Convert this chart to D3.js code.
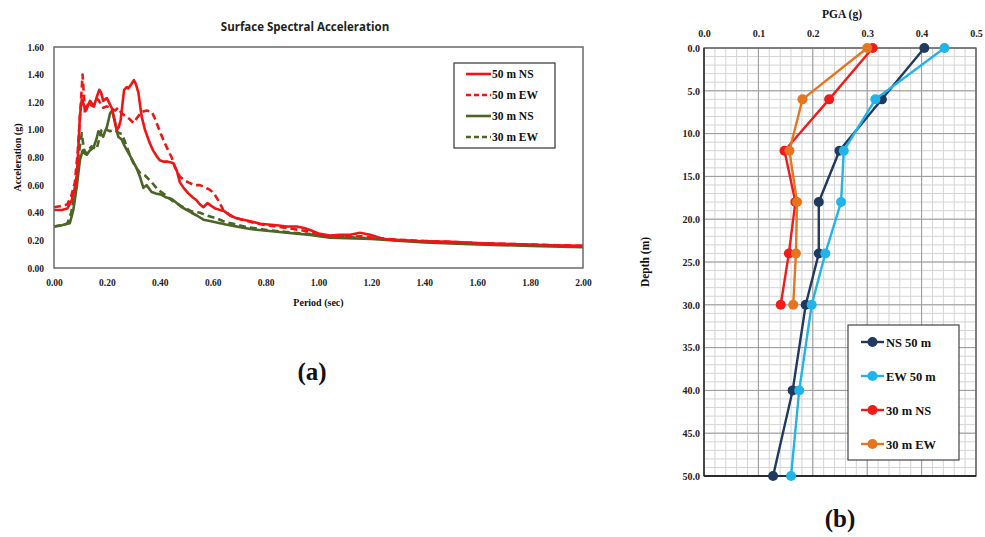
<!DOCTYPE html>
<html>
<head>
<meta charset="utf-8">
<script src="https://cdn.jsdelivr.net/npm/d3@7"></script>
<style>
  body { margin: 0; background: #fff; }
  .tick text { font-family: "Liberation Serif", serif; font-weight: bold; fill: #222; }
  .lab { font-family: "Liberation Serif", serif; font-weight: bold; fill: #111; }
</style>
</head>
<body>
<script>
// ---------------- data (a) : spectral acceleration ----------------
var ns50T = [0,0.03,0.05,0.067,0.086,0.098,0.105,0.113,0.121,0.136,0.151,0.162,0.171,0.178,0.186,0.2,0.21,0.218,0.228,0.237,0.245,0.252,0.265,0.275,0.281,0.292,0.302,0.31,0.319,0.331,0.344,0.363,0.375,0.388,0.4,0.413,0.43,0.451,0.465,0.476,0.49,0.508,0.525,0.539,0.552,0.565,0.58,0.595,0.61,0.628,0.645,0.665,0.69,0.716,0.75,0.779,0.81,0.842,0.88,0.918,0.945,0.968,1.0,1.043,1.08,1.12,1.157,1.195,1.245,1.3,1.371,1.5,1.6,1.686,1.8,1.875,2.0];
var ns50A = [0.42,0.42,0.43,0.49,0.64,1.10,1.22,1.18,1.14,1.21,1.17,1.24,1.29,1.27,1.21,1.23,1.19,1.16,1.08,1.00,1.02,1.07,1.29,1.31,1.30,1.33,1.36,1.33,1.27,1.10,1.00,0.90,0.85,0.81,0.78,0.77,0.77,0.76,0.70,0.62,0.58,0.54,0.51,0.49,0.46,0.44,0.47,0.45,0.43,0.42,0.41,0.38,0.36,0.35,0.335,0.32,0.315,0.31,0.30,0.30,0.29,0.275,0.25,0.235,0.24,0.24,0.255,0.24,0.21,0.20,0.195,0.19,0.18,0.175,0.17,0.165,0.16];

var ew50T = [0,0.03,0.05,0.065,0.079,0.09,0.1,0.108,0.113,0.117,0.13,0.14,0.149,0.16,0.168,0.178,0.186,0.2,0.212,0.231,0.243,0.255,0.27,0.285,0.3,0.315,0.331,0.35,0.37,0.382,0.4,0.415,0.432,0.445,0.457,0.476,0.49,0.508,0.53,0.552,0.575,0.59,0.605,0.621,0.64,0.66,0.678,0.71,0.741,0.77,0.804,0.84,0.88,0.93,0.96,0.993,1.043,1.1,1.16,1.2,1.3,1.4,1.5,1.6,1.7,1.8,1.9,2.0];
var ew50A = [0.44,0.45,0.46,0.52,0.62,0.85,1.15,1.40,1.25,1.12,1.20,1.18,1.17,1.22,1.22,1.18,1.16,1.17,1.16,1.14,1.16,1.12,1.10,1.08,1.05,1.09,1.13,1.14,1.13,1.08,0.99,0.92,0.85,0.80,0.73,0.66,0.64,0.62,0.60,0.60,0.58,0.565,0.54,0.49,0.42,0.39,0.37,0.35,0.335,0.32,0.31,0.30,0.29,0.275,0.265,0.25,0.227,0.225,0.23,0.22,0.205,0.195,0.19,0.18,0.175,0.17,0.165,0.16];

var ns30T = [0,0.03,0.048,0.06,0.073,0.086,0.098,0.108,0.115,0.124,0.135,0.149,0.16,0.168,0.178,0.186,0.193,0.2,0.212,0.22,0.231,0.243,0.256,0.265,0.275,0.294,0.313,0.325,0.338,0.35,0.369,0.385,0.407,0.425,0.445,0.464,0.483,0.502,0.52,0.54,0.565,0.59,0.615,0.65,0.678,0.72,0.75,0.804,0.88,0.968,1.043,1.2,1.4,1.6,1.8,2.0];
var ns30A = [0.30,0.31,0.32,0.325,0.42,0.59,0.78,0.85,0.83,0.82,0.85,0.87,0.93,0.99,0.97,0.95,0.99,1.02,1.12,1.14,1.05,0.95,0.93,0.89,0.855,0.79,0.72,0.66,0.58,0.60,0.55,0.54,0.53,0.51,0.50,0.47,0.44,0.42,0.40,0.38,0.35,0.34,0.33,0.315,0.305,0.29,0.28,0.27,0.255,0.24,0.22,0.21,0.185,0.17,0.16,0.15];

var ew30T = [0,0.03,0.05,0.065,0.079,0.092,0.105,0.113,0.121,0.132,0.142,0.152,0.161,0.172,0.18,0.19,0.2,0.212,0.224,0.235,0.243,0.256,0.265,0.275,0.288,0.3,0.313,0.325,0.344,0.365,0.394,0.42,0.445,0.48,0.52,0.552,0.577,0.615,0.65,0.678,0.72,0.77,0.804,0.88,0.968,1.043,1.2,1.4,1.6,1.8,2.0];
var ew30A = [0.30,0.31,0.32,0.40,0.54,0.80,0.975,0.86,0.83,0.86,0.88,0.87,0.86,0.94,1.00,1.01,1.00,0.99,1.00,0.99,0.98,0.97,0.93,0.88,0.81,0.76,0.72,0.69,0.67,0.63,0.565,0.53,0.49,0.45,0.41,0.40,0.38,0.36,0.33,0.32,0.30,0.285,0.275,0.26,0.245,0.23,0.215,0.19,0.175,0.165,0.155];

var specNames = ["50 m NS", "50 m EW", "30 m NS", "30 m EW"];

// ---------------- data (b) : PGA vs depth ----------------
var depth50 = [0, 6, 12, 18, 24, 30, 40, 50];
var depth30 = [0, 6, 12, 18, 24, 30];
var pgaNS50 = [0.405, 0.327, 0.249, 0.211, 0.211, 0.187, 0.163, 0.127];
var pgaEW50 = [0.442, 0.315, 0.257, 0.252, 0.223, 0.198, 0.175, 0.160];
var pgaNS30 = [0.310, 0.230, 0.148, 0.168, 0.156, 0.141];
var pgaEW30 = [0.300, 0.181, 0.157, 0.171, 0.169, 0.164];
var pgaNames = ["NS 50 m", "EW 50 m", "30 m NS", "30 m EW"];

var W = 985, H = 537;
var svg = d3.select("body").append("svg")
    .attr("width", W).attr("height", H);

var RED = "#f01414", GREEN = "#4b6526";

//======================= chart (a) =======================
var x = d3.scaleLinear().domain([0, 2]).range([54, 583]);
var y = d3.scaleLinear().domain([0, 1.6]).range([268, 47]);

svg.append("text")
    .attr("x", 305).attr("y", 31)
    .attr("text-anchor", "middle")
    .style("font-family", "'Open Sans', sans-serif")
    .style("font-weight", "bold")
    .style("font-size", "11.5px")
    .style("fill", "#222")
    .text("Surface Spectral Acceleration");

// y axis labels
svg.append("g")
    .attr("transform", "translate(54,0)")
    .call(d3.axisLeft(y).tickValues(d3.range(0, 1.61, 0.2)).tickFormat(d3.format(".2f")).tickSize(0).tickPadding(10))
    .call(function(g) { g.select(".domain").remove(); })
    .selectAll("text").style("font-size", "9.5px");

svg.append("g")
    .attr("transform", "translate(0,268)")
    .call(d3.axisBottom(x).tickValues(d3.range(0, 2.01, 0.2)).tickFormat(d3.format(".2f")).tickSize(0).tickPadding(11))
    .call(function(g) { g.select(".domain").remove(); })
    .selectAll("text").style("font-size", "9.5px");

var specSeries = [
    {T: ns50T, A: ns50A, color: RED, dash: null},
    {T: ew50T, A: ew50A, color: RED, dash: "7,4"},
    {T: ns30T, A: ns30A, color: GREEN, dash: null},
    {T: ew30T, A: ew30A, color: GREEN, dash: "7,4"}
];
var lineA = d3.line()
    .x(function(d) { return x(d[0]); })
    .y(function(d) { return y(d[1]); });

// draw green first, red on top like the picture
[3, 2, 1, 0].forEach(function(i) {
    var s = specSeries[i];
    var pts = s.T.map(function(t, j) { return [t, s.A[j]]; });
    svg.append("path")
        .attr("d", lineA(pts))
        .attr("fill", "none")
        .attr("stroke", s.color)
        .attr("stroke-width", 2.6)
        .attr("stroke-linejoin", "round")
        .attr("stroke-dasharray", s.dash);
});

// plot border
svg.append("rect")
    .attr("x", x(0)).attr("y", y(1.6))
    .attr("width", x(2) - x(0)).attr("height", y(0) - y(1.6))
    .attr("fill", "none").attr("stroke", "#6a6a6a").attr("stroke-width", 1.5);

svg.append("text").attr("class", "lab")
    .attr("transform", "translate(21," + ((y(0) + y(1.6)) / 2) + ") rotate(-90)")
    .attr("text-anchor", "middle")
    .style("font-size", "10px")
    .text("Acceleration (g)");

svg.append("text").attr("class", "lab")
    .attr("x", (x(0) + x(2)) / 2).attr("y", 306)
    .attr("text-anchor", "middle")
    .style("font-size", "10px")
    .text("Period (sec)");

// legend (a)
var leg = svg.append("g").attr("transform", "translate(454,63)");
leg.append("rect").attr("width", 101).attr("height", 85)
    .attr("fill", "#fff").attr("stroke", "#333").attr("stroke-width", 1.2);
specSeries.forEach(function(s, i) {
    var ly = 11 + i * 21;
    leg.append("line")
        .attr("x1", 12).attr("x2", 37).attr("y1", ly).attr("y2", ly)
        .attr("stroke", s.color).attr("stroke-width", 2.6)
        .attr("stroke-dasharray", s.dash ? "5,3" : null);
    leg.append("text").attr("class", "lab")
        .attr("x", 38).attr("y", ly + 4)
        .style("font-size", "11.5px")
        .text(specNames[i]);
});

svg.append("text").attr("class", "lab")
    .attr("x", 312).attr("y", 380)
    .attr("text-anchor", "middle")
    .style("font-size", "25px")
    .text("(a)");

//======================= chart (b) =======================
var x2 = d3.scaleLinear().domain([0, 0.5]).range([704, 976]);
var y2 = d3.scaleLinear().domain([0, 50]).range([48, 476]);

var grid = svg.append("g");
// minor grid
d3.range(0, 0.5001, 0.02).forEach(function(v) {
    grid.append("line").attr("x1", x2(v)).attr("x2", x2(v)).attr("y1", y2(0)).attr("y2", y2(50))
        .attr("stroke", "#d4d4d4").attr("stroke-width", 1);
});
d3.range(0, 50.01, 1).forEach(function(v) {
    grid.append("line").attr("x1", x2(0)).attr("x2", x2(0.5)).attr("y1", y2(v)).attr("y2", y2(v))
        .attr("stroke", "#d4d4d4").attr("stroke-width", 1);
});
// major grid
d3.range(0, 0.5001, 0.1).forEach(function(v) {
    grid.append("line").attr("x1", x2(v)).attr("x2", x2(v)).attr("y1", y2(0)).attr("y2", y2(50))
        .attr("stroke", "#9a9a9a").attr("stroke-width", 1);
});
d3.range(0, 50.01, 5).forEach(function(v) {
    grid.append("line").attr("x1", x2(0)).attr("x2", x2(0.5)).attr("y1", y2(v)).attr("y2", y2(v))
        .attr("stroke", "#9a9a9a").attr("stroke-width", 1);
});
svg.append("rect")
    .attr("x", x2(0)).attr("y", y2(0))
    .attr("width", x2(0.5) - x2(0)).attr("height", y2(50) - y2(0))
    .attr("fill", "none").attr("stroke", "#5a5a5a").attr("stroke-width", 1.3);
svg.append("line")
    .attr("x1", x2(0)).attr("x2", x2(0.5)).attr("y1", y2(50)).attr("y2", y2(50))
    .attr("stroke", "#111").attr("stroke-width", 1.6);
svg.append("line")
    .attr("x1", x2(0)).attr("x2", x2(0)).attr("y1", y2(0)).attr("y2", y2(50))
    .attr("stroke", "#333").attr("stroke-width", 1.4);

svg.append("g")
    .attr("transform", "translate(0," + y2(0) + ")")
    .call(d3.axisTop(x2).tickValues(d3.range(0, 0.501, 0.1)).tickFormat(d3.format(".1f")).tickSize(0).tickPadding(11))
    .call(function(g) { g.select(".domain").remove(); })
    .selectAll("text").style("font-size", "10px");

svg.append("g")
    .attr("transform", "translate(" + x2(0) + ",0)")
    .call(d3.axisLeft(y2).tickValues(d3.range(0, 50.1, 5)).tickFormat(d3.format(".1f")).tickSize(0).tickPadding(4))
    .call(function(g) { g.select(".domain").remove(); })
    .selectAll("text").style("font-size", "10px");

svg.append("text").attr("class", "lab")
    .attr("x", 842).attr("y", 18)
    .attr("text-anchor", "middle")
    .style("font-size", "11.5px")
    .text("PGA (g)");

svg.append("text").attr("class", "lab")
    .attr("transform", "translate(649," + ((y2(0) + y2(50)) / 2) + ") rotate(-90)")
    .attr("text-anchor", "middle")
    .style("font-size", "11.5px")
    .text("Depth (m)");

var pgaSeries = [
    {d: depth50, v: pgaNS50, color: "#1f3a5f"},
    {d: depth50, v: pgaEW50, color: "#21b4e8"},
    {d: depth30, v: pgaNS30, color: "#f21b1b"},
    {d: depth30, v: pgaEW30, color: "#e5761f"}
];
var lineB = d3.line()
    .x(function(d) { return x2(d[1]); })
    .y(function(d) { return y2(d[0]); });

pgaSeries.forEach(function(s) {
    var pts = s.d.map(function(dd, j) { return [dd, s.v[j]]; });
    svg.append("path")
        .attr("d", lineB(pts))
        .attr("fill", "none")
        .attr("stroke", s.color)
        .attr("stroke-width", 2.4);
    svg.selectAll(null).data(pts).enter().append("circle")
        .attr("cx", function(d) { return x2(d[1]); })
        .attr("cy", function(d) { return y2(d[0]); })
        .attr("r", 5)
        .attr("fill", s.color);
});

// legend (b)
var leg2 = svg.append("g").attr("transform", "translate(848,325)");
leg2.append("rect").attr("width", 111).attr("height", 135)
    .attr("fill", "#fff").attr("stroke", "#444").attr("stroke-width", 1.2);
pgaSeries.forEach(function(s, i) {
    var ly = 17 + i * 34;
    leg2.append("line")
        .attr("x1", 13).attr("x2", 36).attr("y1", ly).attr("y2", ly)
        .attr("stroke", s.color).attr("stroke-width", 2.4);
    leg2.append("circle").attr("cx", 24.5).attr("cy", ly).attr("r", 5).attr("fill", s.color);
    leg2.append("text").attr("class", "lab")
        .attr("x", 38).attr("y", ly + 4.5)
        .style("font-size", "12.5px")
        .text(pgaNames[i]);
});

svg.append("text").attr("class", "lab")
    .attr("x", 840).attr("y", 527)
    .attr("text-anchor", "middle")
    .style("font-size", "25px")
    .text("(b)");
</script>
</body>
</html>
